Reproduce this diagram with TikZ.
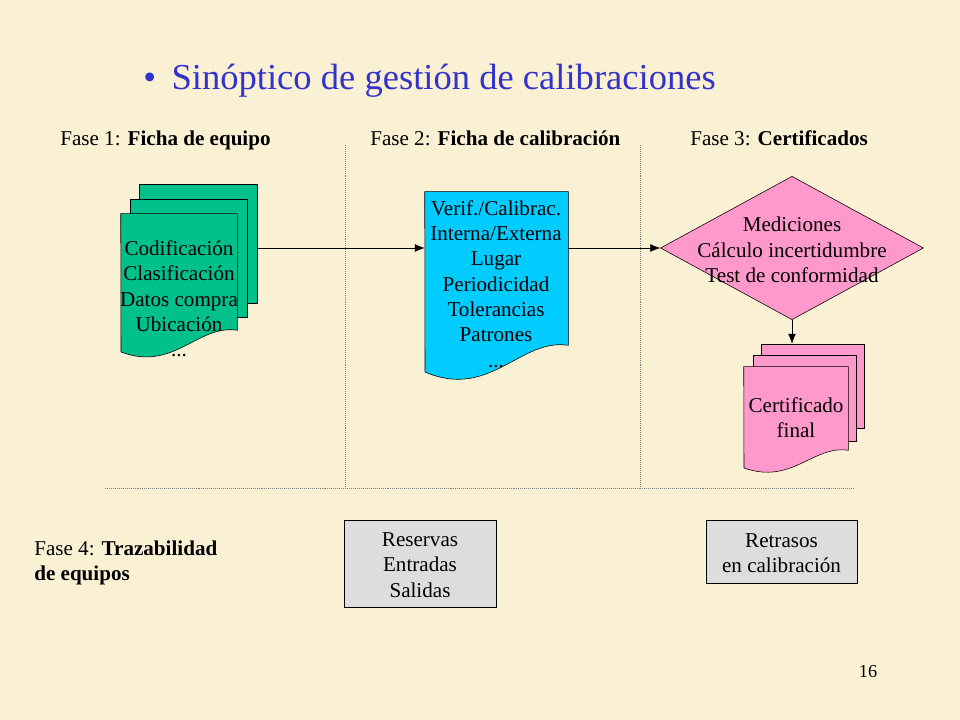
\documentclass[tikz,border=0pt]{standalone}
\usepackage{fontspec}
\setmainfont{Liberation Serif}
\usepackage{xcolor}
\usetikzlibrary{fit, shapes.geometric, arrows.meta}

\begin{document}
\begin{tikzpicture}[x = 0.025cm, y = -0.025cm,
						body/.style = {font = \fontsize{15}{18}\selectfont, align = center, inner sep = 0pt},
						sheet/.style = {draw = black, thin},
						flow/.style = {-{Latex[length = 7pt, width = 5.5pt]}, thin},
						phase line/.style = {densely dotted, gray},
						]
	
		\definecolor{paper}{RGB}{250, 240, 212}
		\definecolor{titleblue}{RGB}{51, 51, 204}
		\definecolor{equipgreen}{RGB}{0, 192, 140}
		\definecolor{calibblue}{RGB}{0, 204, 255}
		\definecolor{certpink}{RGB}{255, 153, 204}
		\definecolor{boxgray}{RGB}{221, 221, 221}
		
		% Background
		\fill[paper] (0, 0) rectangle (960, 720);
		\useasboundingbox (0, 0) rectangle (960, 720);
		
		% Title
		\node[anchor = base west, inner sep = 0pt, text = titleblue, font = \fontsize{26}{31}\selectfont] (title) at (143, 90) {\textbullet\hspace{11pt}Sinóptico de gestión de calibraciones};
		
		% Phase headings
		\node[body, anchor = base west] (fase1) at (60, 146) {Fase 1: \textbf{Ficha de equipo}};
		\node[body, anchor = base west] (fase2) at (370, 146) {Fase 2: \textbf{Ficha de calibración}};
		\node[body, anchor = base west] (fase3) at (690, 146) {Fase 3: \textbf{Certificados}};
		
		% Phase separators
		\draw[phase line] (345, 145) -- (345, 488);
		\draw[phase line] (640, 145) -- (640, 488);
		\draw[phase line] (105, 488) -- (855, 488);
		
		% Fase 1 sheets
		\node[fit = {(139, 184) (257, 303)}, inner sep = 0pt, sheet, fill = equipgreen] (equipoBack) {};
		\node[fit = {(130, 199) (247, 317)}, inner sep = 0pt, sheet, fill = equipgreen] (equipoMid) {};
		\node[fit = {(121, 214) (237, 330)}, inner sep = 0pt] (equipo) {};
		\draw[sheet, fill = equipgreen] (equipo.north west) -- (equipo.north east) -- (equipo.south east)
			.. controls (198, 324) and (174, 372) .. (121, 352) -- cycle;
		\node[body] (equipoText) at (179, 299) {Codificación\\Clasificación\\Datos compra\\Ubicación\\...};
		
		% Fase 2 sheet
		\node[fit = {(425, 192) (568, 345)}, inner sep = 0pt] (calib) {};
		\draw[sheet, fill = calibblue] (calib.north west) -- (calib.north east) -- (calib.south east)
			.. controls (520, 338) and (490, 400) .. (425, 372) -- cycle;
		\node[body] (calibText) at (496, 284) {Verif./Calibrac.\\Interna/Externa\\Lugar\\Periodicidad\\Tolerancias\\Patrones\\...};
		
		% Fase 3 decision
		\node[diamond, sheet, fill = certpink, inner sep = 0pt, minimum width = 187pt, minimum height = 102pt] (medicion) at (792, 248) {};
		\node[body] (medicionText) at (792, 250) {Mediciones\\Cálculo incertidumbre\\Test de conformidad};
		
		% Fase 3 certificates
		\node[fit = {(761, 344) (864, 428)}, inner sep = 0pt, sheet, fill = certpink] (certBack) {};
		\node[fit = {(753, 355) (856, 441)}, inner sep = 0pt, sheet, fill = certpink] (certMid) {};
		\node[fit = {(744, 367) (848, 450)}, inner sep = 0pt] (cert) {};
		\draw[sheet, fill = certpink] (cert.north west) -- (cert.north east) -- (cert.south east)
			.. controls (813, 445) and (792, 485) .. (744, 468) -- cycle;
		\node[body] (certText) at (796, 418) {Certificado\\final};
		
		% Flow arrows
		\draw[flow] (equipoBack.east |- medicion.west) -- (calib.west |- medicion.west);
		\draw[flow] (calib.east |- medicion.west) -- (medicion.west);
		\draw[flow] (medicion.south) -- (medicion.south |- certBack.north);
		
		% Fase 4
		\node[body, align = left, anchor = west] (fase4) at (34, 563) {Fase 4: \textbf{Trazabilidad}\\\textbf{de equipos}};
		\node[fit = {(344, 520) (496, 607)}, inner sep = 0pt, sheet, fill = boxgray] (reservas) {};
		\node[body] (reservasText) at (reservas.center) [yshift = -1pt] {Reservas\\Entradas\\Salidas};
		\node[fit = {(706, 520) (857, 583)}, inner sep = 0pt, sheet, fill = boxgray] (retrasos) {};
		\node[body] (retrasosText) at (retrasos.center) [yshift = -1pt] {Retrasos\\en calibración};
		
		% Slide number
		\node[inner sep = 0pt, font = \fontsize{13}{15}\selectfont] (pagina) at (868, 672) {16};
		
	\end{tikzpicture}
\end{document}
